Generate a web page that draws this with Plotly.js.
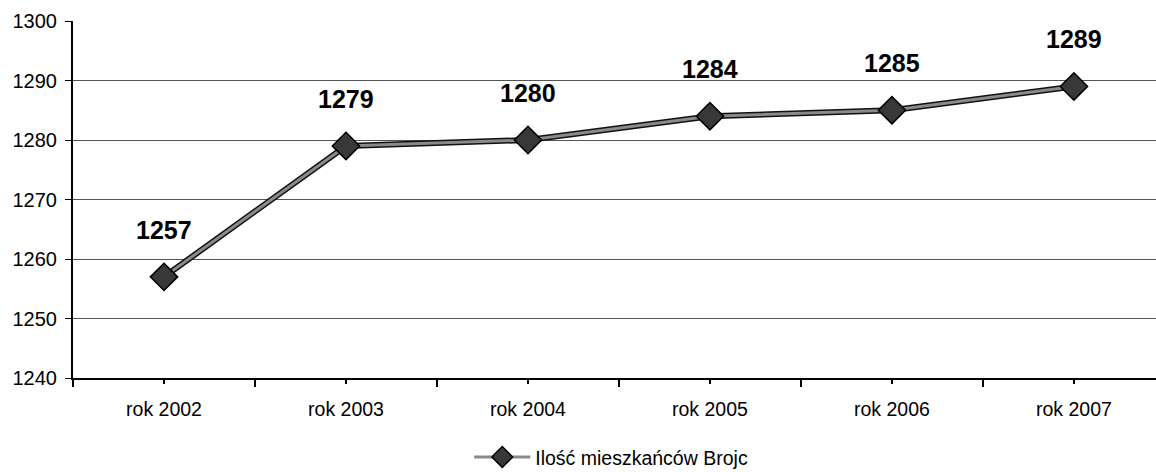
<!DOCTYPE html>
<html>
<head>
<meta charset="utf-8">
<script src="https://cdn.plot.ly/plotly-3.0.1.min.js"></script>
<style>
html,body{margin:0;padding:0;background:#fff;overflow:hidden;}
#chart{width:1156px;height:472px;}
</style>
</head>
<body>
<div id="chart"></div>
<script>
const categories = ["rok 2002", "rok 2003", "rok 2004", "rok 2005", "rok 2006", "rok 2007"];
const residents = [1257, 1279, 1280, 1284, 1285, 1289];
const seriesName = "Ilość mieszkańców Brojc";
const yTicks = [1240, 1250, 1260, 1270, 1280, 1290, 1300];

const idx = categories.map((_, i) => i);
const FONT = "Liberation Sans, Arial, sans-serif";

const underlay = {
  x: idx, y: residents, type: "scatter", mode: "lines",
  line: {color: "#111", width: 6},
  showlegend: false, hoverinfo: "skip"
};
const main = {
  x: idx, y: residents, type: "scatter", mode: "lines+markers",
  name: seriesName,
  line: {color: "#8a8a8a", width: 3},
  marker: {symbol: "diamond", size: 21, color: "#383838", line: {color: "#000", width: 1.5}}
};

const annotations = idx.map((i) => ({
  x: i, y: residents[i], xref: "x", yref: "y",
  text: String(residents[i]), showarrow: false,
  yanchor: "bottom", yshift: 31,
  font: {family: FONT, size: 25, color: "#000", weight: "bold"}
}));

const layout = {
  width: 1156, height: 472,
  margin: {l: 73, r: 0, t: 21, b: 94, autoexpand: false},
  paper_bgcolor: "#fff", plot_bgcolor: "#fff",
  font: {family: FONT, color: "#000"},
  showlegend: true,
  legend: {
    orientation: "h", x: 0.497, xanchor: "center", y: -0.222, yanchor: "middle",
    itemwidth: 56,
    font: {family: FONT, size: 19.5, color: "#000"}
  },
  xaxis: {
    type: "linear", range: [-0.5, 5.451], fixedrange: true, automargin: false,
    tickmode: "array", tickvals: idx, ticktext: categories,
    ticks: "outside", ticklen: 4, tickcolor: "#000", tickwidth: 1.5,
    ticklabelstandoff: 9,
    minor: {tick0: -0.5, dtick: 1, ticks: "outside", ticklen: 7, tickcolor: "#000", tickwidth: 1.5, showgrid: false},
    showline: true, linecolor: "#000", linewidth: 1.5,
    showgrid: false, zeroline: false,
    tickfont: {family: FONT, size: 19.5, color: "#000"}
  },
  yaxis: {
    range: [1240, 1300], fixedrange: true, automargin: false,
    tickmode: "array", tickvals: yTicks,
    ticks: "outside", ticklen: 6, tickcolor: "#000", tickwidth: 1,
    ticklabelstandoff: 4,
    showline: true, linecolor: "#000", linewidth: 2,
    showgrid: true, gridcolor: "#555", gridwidth: 1,
    zeroline: false,
    tickfont: {family: FONT, size: 20, color: "#000"}
  },
  annotations: annotations
};

Plotly.newPlot("chart", [underlay, main], layout, {displayModeBar: false, staticPlot: true});
</script>
</body>
</html>
